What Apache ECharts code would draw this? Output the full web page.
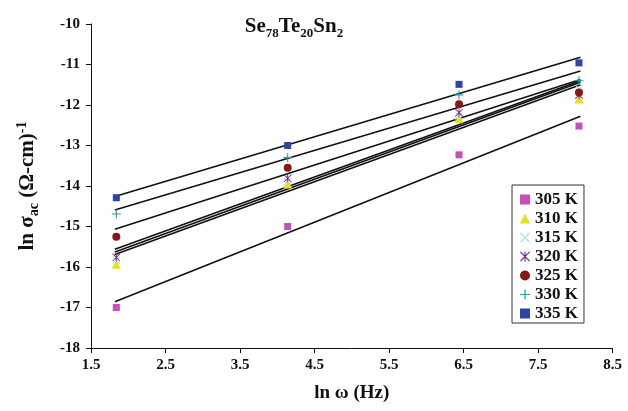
<!DOCTYPE html>
<html>
<head>
<meta charset="utf-8">
<script src="https://cdn.jsdelivr.net/npm/echarts@6/dist/echarts.min.js"></script>
<style>html,body{margin:0;padding:0;background:#fff;}#c{width:628px;height:411px;}</style>
</head>
<body>
<div id="c"></div>
<script>
// ---- data ----
var xValues = [1.84, 4.14, 6.44, 8.05];
var seriesNames = ['305 K', '310 K', '315 K', '320 K', '325 K', '330 K', '335 K'];
var y305 = [-17.00, -15.00, -13.23, -12.52];
var y310 = [-15.93, -13.95, -12.34, -11.85];
var y315 = [-15.83, -13.89, -12.27, -11.60];
var y320 = [-15.76, -13.81, -12.19, -11.75];
var y325 = [-15.25, -13.55, -11.98, -11.69];
var y330 = [-14.69, -13.30, -11.75, -11.40];
var y335 = [-14.29, -13.00, -11.49, -10.96];
// trend line end points
var fitX = [1.82, 8.07];
var fit305 = [-16.86, -12.28];
var fit310 = [-15.69, -11.50];
var fit315 = [-15.63, -11.44];
var fit320 = [-15.56, -11.40];
var fit325 = [-15.07, -11.37];
var fit330 = [-14.59, -11.16];
var fit335 = [-14.26, -10.82];
var xTicks = [1.5, 2.5, 3.5, 4.5, 5.5, 6.5, 7.5, 8.5];
var yTicks = [-18, -17, -16, -15, -14, -13, -12, -11, -10];

var ys = [y305, y310, y315, y320, y325, y330, y335];
var fits = [fit305, fit310, fit315, fit320, fit325, fit330, fit335];

var plusPath = 'path://M4.4,0H5.6V4.4H10V5.6H5.6V10H4.4V5.6H0V4.4H4.4Z';
var xPath = 'path://M0,0.8L0.8,0L10,9.2L9.2,10Z M10,0.8L0.8,10L0,9.2L9.2,0Z';
var starPath = 'path://M0,0.8L0.8,0L10,9.2L9.2,10Z M10,0.8L0.8,10L0,9.2L9.2,0Z M4.45,0H5.55V10H4.45Z';
var styles = [
  {symbol: 'rect', size: 7, color: '#C64FBA'},
  {symbol: 'triangle', size: 9, color: '#E9DF1E'},
  {symbol: xPath, size: 8, color: '#98E2EC'},
  {symbol: starPath, size: 8, color: '#7E1D86'},
  {symbol: 'circle', size: 8, color: '#8A1616'},
  {symbol: plusPath, size: 9, color: '#24A0A4'},
  {symbol: 'rect', size: 7, color: '#2E44A8'}
];

var FONT = '"Liberation Serif", "Times New Roman", serif';
var series = [];
for (var i = 0; i < seriesNames.length; i++) {
  series.push({
    name: 'fit' + i, type: 'line', silent: true, symbol: 'none',
    data: fitX.map(function (x, k) { return [x, fits[i][k]]; }),
    lineStyle: {color: '#111', width: 1.6}, z: 2, animation: false
  });
}
for (var j = 0; j < seriesNames.length; j++) {
  series.push({
    name: seriesNames[j], type: 'scatter',
    symbol: styles[j].symbol, symbolSize: styles[j].size,
    itemStyle: {color: styles[j].color, opacity: 1},
    data: xValues.map(function (x, k) { return [x, ys[j][k]]; }),
    z: 3, animation: false
  });
}

var chart = echarts.init(document.getElementById('c'), null, {renderer: 'canvas'});
chart.setOption({
  animation: false,
  backgroundColor: '#fff',
  title: {
    text: '{b|Se}{s|78}{b|Te}{s|20}{b|Sn}{s|2}',
    left: 289, top: 9, textAlign: 'center',
    textStyle: {
      fontFamily: FONT, fontWeight: 'bold', color: '#111',
      rich: {
        b: {fontFamily: FONT, fontWeight: 'bold', fontSize: 21, lineHeight: 26, verticalAlign: 'middle', color: '#111'},
        s: {fontFamily: FONT, fontWeight: 'bold', fontSize: 13, lineHeight: 12, verticalAlign: 'bottom', color: '#111'}
      }
    }
  },
  grid: {left: 91, right: 15.5, top: 24, bottom: 63, containLabel: false},
  legend: {
    data: seriesNames,
    orient: 'vertical', left: 512, top: 185,
    width: 72,
    padding: [6, 6, 1, 8],
    itemWidth: 10, itemHeight: 10, itemGap: 2,
    borderColor: '#333', borderWidth: 1,
    textStyle: {fontFamily: FONT, fontWeight: 'bold', fontSize: 17, lineHeight: 17, color: '#111'}
  },
  xAxis: {
    type: 'value', min: 1.5, max: 8.5,
    name: 'ln ω (Hz)', nameLocation: 'middle', nameGap: 36,
    nameTextStyle: {fontFamily: FONT, fontWeight: 'bold', fontSize: 19, color: '#111'},
    axisLine: {onZero: false, lineStyle: {color: '#111', width: 1}},
    axisTick: {show: true, inside: false, length: 5, customValues: xTicks, lineStyle: {color: '#111'}},
    axisLabel: {customValues: xTicks, margin: 10, fontFamily: FONT, fontWeight: 'bold', fontSize: 15, color: '#111',
      formatter: function (v) { return v.toFixed(1); }},
    splitLine: {show: false}
  },
  yAxis: {
    type: 'value', min: -18, max: -10,
    name: '{t|ln σ}{s|ac}{t| (Ω-cm)}{p|-1}', nameLocation: 'middle', nameGap: 50, nameRotate: 90,
    nameTextStyle: {
      fontFamily: FONT, fontWeight: 'bold', color: '#111',
      rich: {
        t: {fontFamily: FONT, fontWeight: 'bold', fontSize: 21, lineHeight: 26, verticalAlign: 'middle', color: '#111'},
        s: {fontFamily: FONT, fontWeight: 'bold', fontSize: 14, lineHeight: 12, verticalAlign: 'bottom', color: '#111'},
        p: {fontFamily: FONT, fontWeight: 'bold', fontSize: 14, lineHeight: 10, verticalAlign: 'top', color: '#111'}
      }
    },
    axisLine: {show: true, onZero: false, lineStyle: {color: '#111', width: 1}},
    axisTick: {show: true, inside: false, length: 5, customValues: yTicks, lineStyle: {color: '#111'}},
    axisLabel: {customValues: yTicks, margin: 11, fontFamily: FONT, fontWeight: 'bold', fontSize: 15, color: '#111'},
    splitLine: {show: false}
  },
  series: series
});
</script>
</body>
</html>
